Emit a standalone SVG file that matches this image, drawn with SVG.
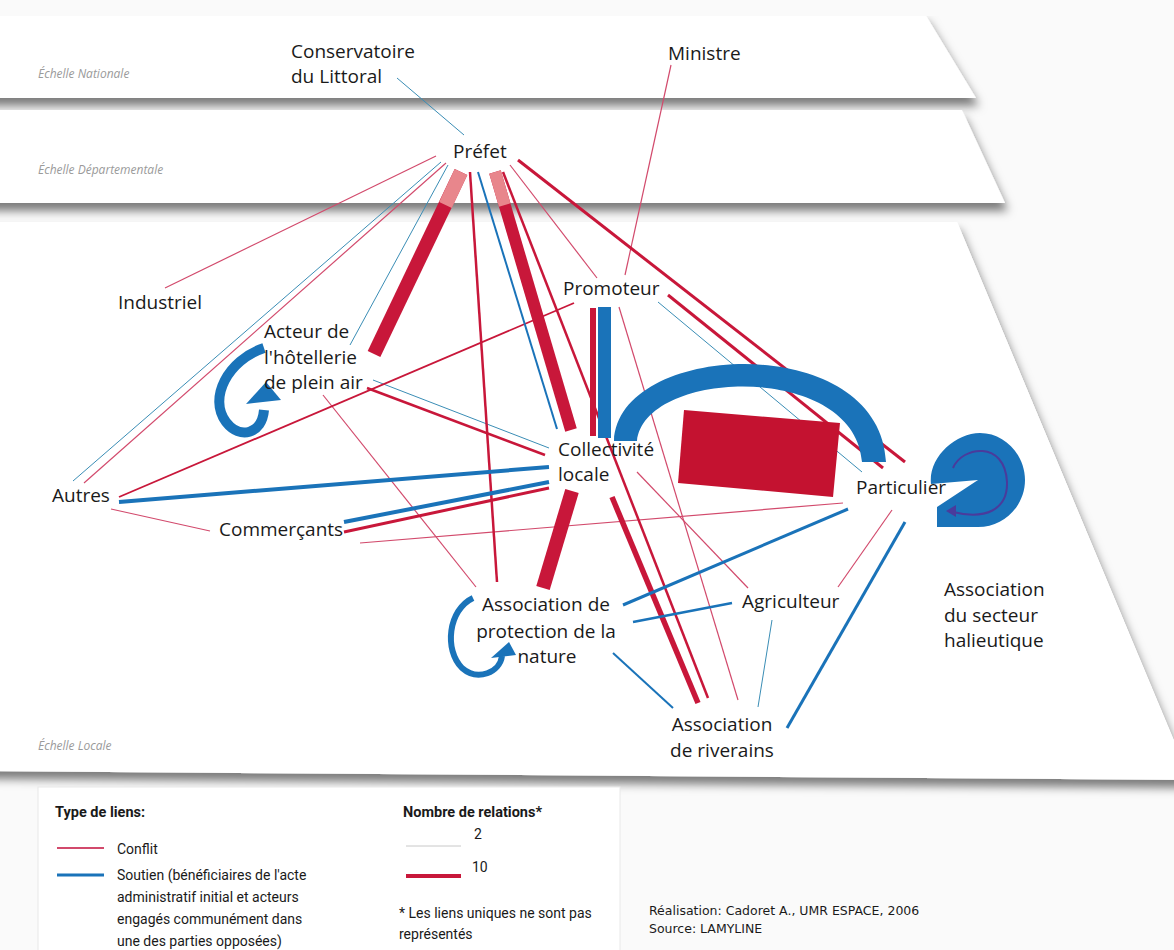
<svg xmlns="http://www.w3.org/2000/svg" width="1174" height="950" viewBox="0 0 1174 950">
<defs>
<style>
.lbl{font-family:"Open Sans","Liberation Sans",sans-serif;font-size:19px;fill:#1a1a1a}
.mid{text-anchor:middle}
.ech{font-family:"Open Sans","Liberation Sans",sans-serif;font-size:12px;font-style:italic;fill:#9a9a9a}
.leg{font-family:Roboto,"Liberation Sans",sans-serif;font-size:14px;fill:#1a1a1a}
.legb{font-family:Roboto,"Liberation Sans",sans-serif;font-size:14.5px;font-weight:bold;fill:#1a1a1a}
.cred{font-family:"DejaVu Sans",sans-serif;font-size:12.5px;fill:#1a1a1a}
.plane{fill:#ffffff;filter:url(#sh)}
.pk{stroke:#d24a6c;stroke-width:1.2;fill:none}
.tl{stroke:#3a8db5;stroke-width:1;fill:none}
.rd{stroke:#c8173a;fill:none}
.bl{stroke:#1a73b9;fill:none}
</style>
<filter id="sh" x="-5%" y="-20%" width="115%" height="150%">
<feDropShadow dx="3" dy="8" stdDeviation="5" flood-color="#000" flood-opacity="0.5"/>
</filter>
</defs>
<rect x="0" y="0" width="1174" height="950" fill="#fafafa"/>
<g id="planes">
<polygon class="plane" points="-20,14 925,14 976,98 -20,98"/>
<polygon class="plane" points="-20,110 962,110 1005,203 -20,203"/>
<polygon class="plane" points="-20,222 957,222 1190,780 -20,771"/>
<polygon fill="#ffffff" points="-20,222 957,222 1174,740 1174,771 -20,771"/>
<rect x="-20" y="0" width="1000" height="16" fill="#fafafa"/>
</g>
<g id="scales">
<text class="ech" x="38" y="78">Échelle Nationale</text>
<text class="ech" x="38" y="174">Échelle Départementale</text>
<text class="ech" x="38" y="750">Échelle Locale</text>
</g>
<g id="connectors">
<line class="pk" x1="436" y1="156" x2="165" y2="288"/>
<line class="pk" x1="446" y1="163" x2="84" y2="483"/>
<line class="pk" x1="323" y1="395" x2="476" y2="587" stroke-width="1"/>
<line class="pk" x1="111" y1="509" x2="210" y2="531"/>
<line class="pk" x1="360" y1="543" x2="843" y2="503"/>
<line class="pk" x1="619" y1="307" x2="738" y2="700"/>
<line class="pk" x1="637" y1="472" x2="748" y2="588" stroke-width="1.6"/>
<line class="pk" x1="838" y1="587" x2="892" y2="510"/>
<line class="pk" x1="671" y1="65" x2="625" y2="275"/>
<line class="pk" x1="510" y1="165" x2="597" y2="278" stroke-width="1.8"/>
<line class="tl" x1="397" y1="78" x2="464" y2="135" stroke="#6a8fa5"/>
<line class="tl" x1="441" y1="162" x2="73" y2="481"/>
<line class="tl" x1="448" y1="165" x2="350" y2="345"/>
<line class="tl" x1="373" y1="380" x2="549" y2="448"/>
<line class="tl" x1="658" y1="302" x2="862" y2="472"/>
<line class="tl" x1="772" y1="620" x2="758" y2="707" stroke-width="1.4"/>
<line class="rd" x1="470" y1="172" x2="497" y2="582" stroke-width="2.5"/>
<line class="rd" x1="503" y1="172" x2="708" y2="698" stroke-width="2.5"/>
<line class="rd" x1="518" y1="160" x2="905" y2="462" stroke-width="3"/>
<line class="rd" x1="668" y1="295" x2="883" y2="468" stroke-width="3"/>
<line class="rd" x1="574" y1="303" x2="119" y2="497" stroke-width="1.8"/>
<line class="rd" x1="367" y1="388" x2="545" y2="455" stroke-width="2.5"/>
<line class="rd" x1="344" y1="532" x2="549" y2="488" stroke-width="3"/>
<line class="rd" x1="612" y1="497" x2="698" y2="703" stroke-width="5.5"/>
<line class="bl" x1="478" y1="172" x2="557" y2="429" stroke-width="2"/>
<line class="bl" x1="119" y1="502" x2="549" y2="467" stroke-width="4"/>
<line class="bl" x1="344" y1="522" x2="549" y2="482" stroke-width="4"/>
<line class="bl" x1="623" y1="605" x2="848" y2="509" stroke-width="3"/>
<line class="bl" x1="633" y1="622" x2="732" y2="603" stroke-width="2.5"/>
<line class="bl" x1="613" y1="653" x2="673" y2="708" stroke-width="2"/>
<line class="bl" x1="905" y1="522" x2="787" y2="728" stroke-width="3"/>
<line class="rd" x1="461" y1="172" x2="374" y2="354" stroke-width="14"/>
<line x1="461" y1="172" x2="445.5" y2="205" stroke="#e8868c" stroke-width="14"/>
<line class="rd" x1="495" y1="172" x2="571" y2="430" stroke-width="12"/>
<line x1="495" y1="172" x2="504.7" y2="205" stroke="#e8868c" stroke-width="12"/>
<line class="rd" x1="572" y1="491" x2="543" y2="588" stroke-width="14"/>
<rect x="590" y="308" width="6" height="128" fill="#c8173a"/>
<rect x="598" y="307" width="13" height="131" fill="#1a73b9"/>
<path d="M614,441 C618,340 880,330 886,462 L862,462 C855,362 645,368 637,441 Z" fill="#1a73b9"/>
<polygon points="684,410 840,423 833,497 678,483" fill="#c41230"/>
<path d="M264,348 C228,360 208,398 226,422 C240,440 262,434 264,410" class="bl" stroke-width="10"/>
<polygon points="266,382 246,404 281,400" fill="#1a73b9"/>
<path d="M473,598 C448,610 444,650 462,668 C478,682 500,672 502,656" class="bl" stroke-width="6"/>
<polygon points="509,642 491,658 516,655" fill="#1a73b9"/>
<path d="M978,480 L931,484 C928,458 955,433 980,433 C1005,433 1025,455 1025,480 C1025,505 1005,527 978,527 L937,527 L937,507 Z" fill="#1a73b9"/>
<path d="M953,468 C962,446 1005,440 1007,482 C1008,510 985,520 953,512" fill="none" stroke="#4a3b9c" stroke-width="2"/>
<polygon points="946,511 956,505 956,517" fill="#4a3b9c"/>
</g>
<g id="n-conservatoire"><text class="lbl" x="291" y="58">Conservatoire</text><text class="lbl" x="291" y="83">du Littoral</text></g>
<g id="n-ministre"><text class="lbl" x="668" y="60">Ministre</text></g>
<g id="n-prefet"><text class="lbl" x="453" y="158">Préfet</text></g>
<g id="n-industriel"><text class="lbl" x="118" y="309">Industriel</text></g>
<g id="n-promoteur"><text class="lbl" x="563" y="295">Promoteur</text></g>
<g id="n-acteur"><text class="lbl" x="264" y="338">Acteur de</text><text class="lbl" x="264" y="364">l'hôtellerie</text><text class="lbl" x="264" y="389">de plein air</text></g>
<g id="n-collectivite"><text class="lbl" x="558" y="456">Collectivité</text><text class="lbl" x="558" y="481">locale</text></g>
<g id="n-autres"><text class="lbl" x="52" y="502">Autres</text></g>
<g id="n-commercants"><text class="lbl" x="219" y="536">Commerçants</text></g>
<g id="n-particulier"><text class="lbl" x="856" y="494">Particulier</text></g>
<g id="n-asso-protection"><text class="lbl mid" x="546" y="611">Association de</text><text class="lbl mid" x="546" y="638">protection de la</text><text class="lbl mid" x="547" y="663">nature</text></g>
<g id="n-agriculteur"><text class="lbl" x="742" y="608">Agriculteur</text></g>
<g id="n-asso-halieutique"><text class="lbl" x="944" y="596">Association</text><text class="lbl" x="944" y="622">du secteur</text><text class="lbl" x="944" y="647">halieutique</text></g>
<g id="n-asso-riverains"><text class="lbl mid" x="722" y="731">Association</text><text class="lbl mid" x="722" y="757">de riverains</text></g>
<g id="legend">
<rect x="38" y="787" width="582" height="170" fill="#ffffff" stroke="#e8e8e8"/>
<text class="legb" x="55" y="817">Type de liens:</text>
<line x1="57" y1="848" x2="104" y2="848" stroke="#d24a6c" stroke-width="2"/>
<text class="leg" x="117" y="854">Conflit</text>
<line x1="57" y1="875" x2="104" y2="875" stroke="#1a73b9" stroke-width="3"/>
<text class="leg" x="117" y="880">Soutien (bénéficiaires de l'acte</text>
<text class="leg" x="117" y="902">administratif initial et acteurs</text>
<text class="leg" x="117" y="924">engagés communément dans</text>
<text class="leg" x="117" y="946">une des parties opposées)</text>
<text class="legb" x="403" y="817">Nombre de relations*</text>
<line x1="406" y1="846" x2="461" y2="846" stroke="#c8c8c8" stroke-width="1"/>
<text class="leg" x="474" y="839" font-size="13">2</text>
<line x1="406" y1="876" x2="461" y2="876" stroke="#c8173a" stroke-width="4"/>
<text class="leg" x="472" y="872" font-size="13">10</text>
<text class="leg" x="399" y="918" font-size="13">* Les liens uniques ne sont pas</text>
<text class="leg" x="399" y="939" font-size="13">représentés</text>
</g>
<g id="credits">
<text class="cred" x="649" y="915">Réalisation: Cadoret A., UMR ESPACE, 2006</text>
<text class="cred" x="649" y="933">Source: LAMYLINE</text>
</g>
</svg>
